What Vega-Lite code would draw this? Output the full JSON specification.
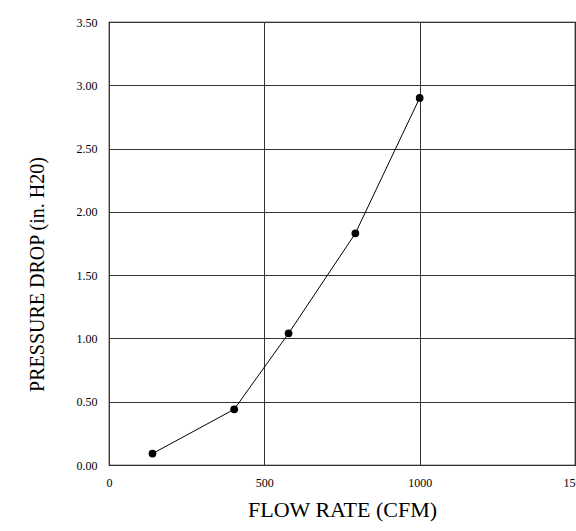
{
  "$schema": "https://vega.github.io/schema/vega-lite/v6.json",
  "autosize": "none",
  "width": 466,
  "height": 443,
  "padding": {"left": 109, "top": 22, "right": 1, "bottom": 66},
  "background": "white",
  "config": {
    "font": "Liberation Serif",
    "view": {"stroke": "#000", "strokeWidth": 1.2}
  },
  "data": {
    "values": [
      {"flow": 140, "dp": 0.09},
      {"flow": 403, "dp": 0.44},
      {"flow": 578, "dp": 1.04},
      {"flow": 793, "dp": 1.83},
      {"flow": 1000, "dp": 2.90}
    ]
  },
  "encoding": {
    "x": {
      "field": "flow", "type": "quantitative",
      "scale": {"domain": [0, 1500], "nice": false},
      "axis": {
        "values": [0, 500, 1000, 1500], "format": "d",
        "title": "FLOW RATE (CFM)",
        "titleFont": "Liberation Serif", "titleFontSize": 22, "titleFontWeight": "normal", "titleColor": "#000",
        "titlePadding": 11,
        "labelFont": "Liberation Serif", "labelFontSize": 12, "labelColor": "#000", "labelPadding": 12,
        "labelFlush": false, "labelOverlap": false,
        "ticks": false, "domain": false,
        "gridColor": "#333", "gridWidth": 1, "gridOpacity": 1
      }
    },
    "y": {
      "field": "dp", "type": "quantitative",
      "scale": {"domain": [0, 3.5], "nice": false},
      "axis": {
        "values": [0, 0.5, 1, 1.5, 2, 2.5, 3, 3.5], "format": ".2f",
        "title": "PRESSURE DROP (in. H20)",
        "titleFont": "Liberation Serif", "titleFontSize": 20, "titleFontWeight": "normal", "titleColor": "#000",
        "titleX": -72, "titleY": 252, "titleAngle": 270, "titleBaseline": "middle", "titleAlign": "center",
        "labelFont": "Liberation Serif", "labelFontSize": 12, "labelColor": "#000", "labelPadding": 12,
        "labelFlush": false,
        "ticks": false, "domain": false,
        "gridColor": "#333", "gridWidth": 1, "gridOpacity": 1
      }
    }
  },
  "layer": [
    {"mark": {"type": "line", "color": "#000", "strokeWidth": 1}},
    {"mark": {"type": "point", "filled": true, "color": "#000", "opacity": 1, "size": 60}}
  ]
}
